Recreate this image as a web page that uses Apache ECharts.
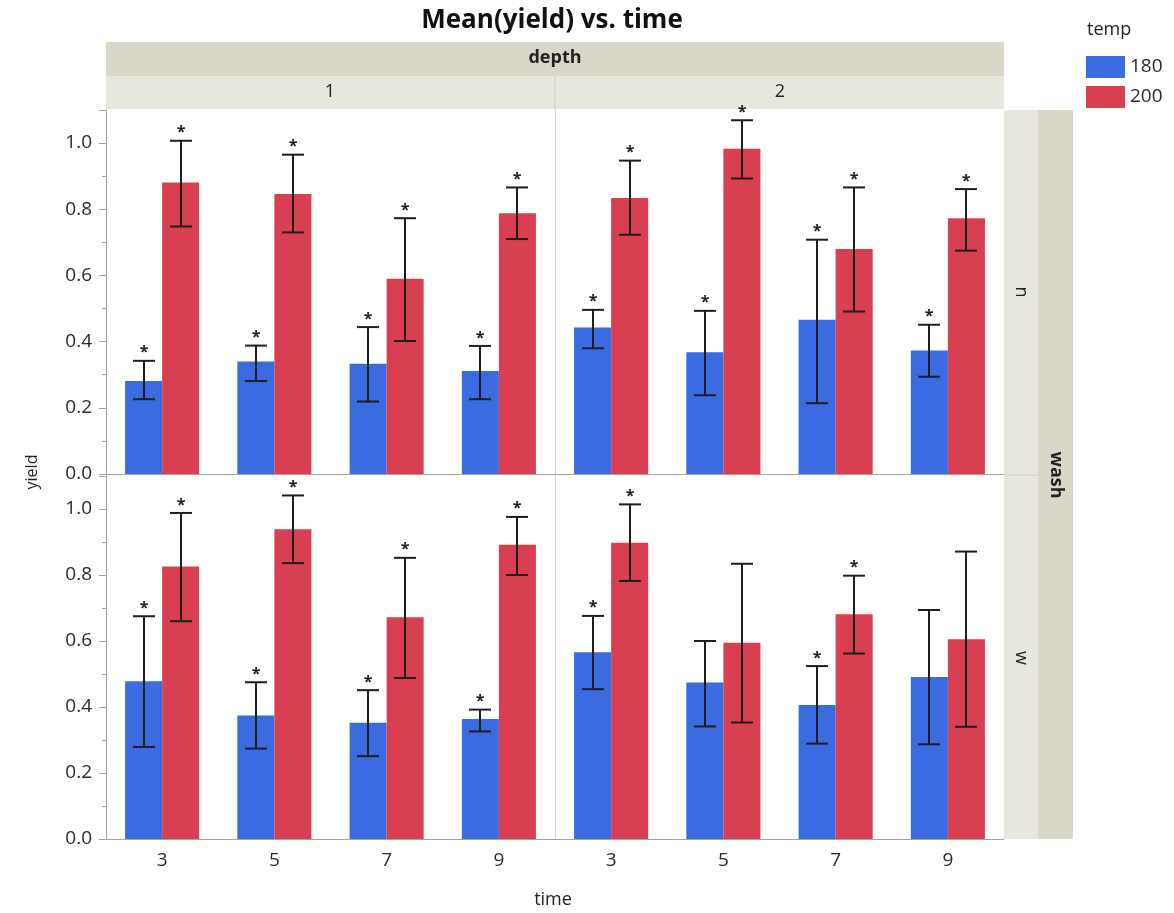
<!DOCTYPE html>
<html>
<head>
<meta charset="utf-8">
<title>Mean(yield) vs. time</title>
<script src="https://cdn.jsdelivr.net/npm/echarts@6/dist/echarts.min.js"></script>
<style>
  html, body { margin: 0; padding: 0; background: #fff; }
  #chart { width: 1174px; height: 913px; }
</style>
</head>
<body>
<div id="chart"></div>
<script>
// panels in order: depth1/wash n, depth2/wash n, depth1/wash w, depth2/wash w
const times = ['3', '5', '7', '9'];
const depths = ['1', '2'];
const washes = ['n', 'w'];
const temps = ['180', '200'];

const mean180 = [
  [0.281, 0.340, 0.333, 0.311],
  [0.443, 0.368, 0.466, 0.373],
  [0.478, 0.374, 0.352, 0.364],
  [0.566, 0.474, 0.406, 0.491]
];
const lower180 = [
  [0.226, 0.281, 0.219, 0.226],
  [0.380, 0.238, 0.214, 0.294],
  [0.279, 0.274, 0.251, 0.326],
  [0.454, 0.341, 0.289, 0.287]
];
const upper180 = [
  [0.342, 0.388, 0.444, 0.387],
  [0.496, 0.493, 0.708, 0.451],
  [0.675, 0.475, 0.451, 0.392],
  [0.676, 0.600, 0.524, 0.694]
];
const mean200 = [
  [0.881, 0.846, 0.590, 0.788],
  [0.834, 0.983, 0.680, 0.773],
  [0.826, 0.939, 0.672, 0.892],
  [0.898, 0.595, 0.681, 0.605]
];
const lower200 = [
  [0.748, 0.730, 0.402, 0.710],
  [0.723, 0.893, 0.491, 0.675],
  [0.660, 0.836, 0.488, 0.800],
  [0.782, 0.353, 0.562, 0.340]
];
const upper200 = [
  [1.007, 0.965, 0.773, 0.866],
  [0.947, 1.069, 0.866, 0.861],
  [0.988, 1.041, 0.852, 0.976],
  [1.014, 0.834, 0.798, 0.871]
];
// 1 = asterisk drawn above the error bar
const star180 = [[1, 1, 1, 1], [1, 1, 1, 1], [1, 1, 1, 1], [1, 0, 1, 0]];
const star200 = [[1, 1, 1, 1], [1, 1, 1, 1], [1, 1, 1, 1], [1, 0, 1, 0]];

const FONT = '"Open Sans", "Noto Sans", sans-serif';
const BLUE = '#3b6be0';
const RED = '#d83f50';
const AXIS = '#a4a498';
const BAND_DARK = '#d9d7c7';
const BAND_LIGHT = '#e8e7de';

const chart = echarts.init(document.getElementById('chart'));

const gridPos = [
  { left: 106, top: 110, width: 449, height: 364 },
  { left: 555, top: 110, width: 449, height: 364 },
  { left: 106, top: 476, width: 449, height: 363 },
  { left: 555, top: 476, width: 449, height: 363 }
];

function errSeries(p, t, lower, upper, stars) {
  return {
    type: 'custom',
    xAxisIndex: p,
    yAxisIndex: p,
    z: 5,
    silent: true,
    encode: { x: 0, y: [1, 2] },
    data: times.map((_, i) => [i, lower[p][i], upper[p][i], stars[p][i]]),
    renderItem: (params, api) => {
      const band = api.size([1, 0])[0];
      const shift = (t === 0 ? -1 : 1) * band * 0.165;
      const x = Math.round(api.coord([api.value(0), 0])[0] + shift);
      const yLo = api.coord([api.value(0), api.value(1)])[1];
      const yHi = api.coord([api.value(0), api.value(2)])[1];
      const st = { stroke: '#1e1e1e', lineWidth: 2 };
      const children = [
        { type: 'line', shape: { x1: x, y1: yLo, x2: x, y2: yHi }, style: st },
        { type: 'line', shape: { x1: x - 11, y1: yHi, x2: x + 11, y2: yHi }, style: st },
        { type: 'line', shape: { x1: x - 11, y1: yLo, x2: x + 11, y2: yLo }, style: st }
      ];
      if (api.value(3)) {
        children.push({
          type: 'text', x: x, y: yHi - 8,
          style: { text: '*', fill: '#1e1e1e', font: 'bold 16px ' + FONT, align: 'center', verticalAlign: 'middle' }
        });
      }
      return { type: 'group', children: children };
    }
  };
}

const grid = [], xAxis = [], yAxis = [], series = [];
for (let p = 0; p < 4; p++) {
  const bottom = p >= 2;
  const leftCol = p % 2 === 0;
  grid.push(gridPos[p]);
  xAxis.push({
    type: 'category', gridIndex: p, data: times,
    axisLine: { show: true, lineStyle: { color: AXIS, width: 1 } },
    axisTick: { show: false },
    axisLabel: { show: bottom, color: '#2a2a2a', fontSize: 19, margin: 12, fontFamily: FONT }
  });
  yAxis.push({
    type: 'value', gridIndex: p, min: 0, max: 1.1, interval: 0.2,
    splitLine: { show: false },
    axisLine: { show: true, lineStyle: { color: leftCol ? AXIS : '#d6d6d0', width: 1 } },
    axisTick: { show: leftCol, length: 7, lineStyle: { color: AXIS } },
    minorTick: { show: leftCol, splitNumber: 2, length: 4, lineStyle: { color: AXIS } },
    axisLabel: {
      show: leftCol, color: '#2a2a2a', fontSize: 19, margin: 14, fontFamily: FONT,
      showMaxLabel: false,
      formatter: v => (v > 1.05 ? '' : v.toFixed(1))
    }
  });
  series.push({
    name: temps[0], type: 'bar', xAxisIndex: p, yAxisIndex: p,
    data: mean180[p], barCategoryGap: '34%', barGap: '0%',
    itemStyle: { color: BLUE }
  });
  series.push({
    name: temps[1], type: 'bar', xAxisIndex: p, yAxisIndex: p,
    data: mean200[p], barCategoryGap: '34%', barGap: '0%',
    itemStyle: { color: RED }
  });
  series.push(errSeries(p, 0, lower180, upper180, star180));
  series.push(errSeries(p, 1, lower200, upper200, star200));
}

const txt = (text, x, y, opts) => Object.assign({
  type: 'text', x: x, y: y, silent: true,
  style: Object.assign({ text: text, fill: '#222', font: '18px ' + FONT, align: 'center', verticalAlign: 'middle' }, (opts && opts.style) || {})
}, opts && opts.rotation !== undefined ? { rotation: opts.rotation } : {});

const graphic = [
  // column strips
  { type: 'rect', shape: { x: 106, y: 42, width: 898, height: 34 }, style: { fill: BAND_DARK }, silent: true },
  { type: 'rect', shape: { x: 106, y: 76, width: 898, height: 33 }, style: { fill: BAND_LIGHT }, silent: true },
  { type: 'line', shape: { x1: 555, y1: 76, x2: 555, y2: 109 }, style: { stroke: '#cfcfc4', lineWidth: 1 }, silent: true },
  // row strips
  { type: 'rect', shape: { x: 1004, y: 110, width: 34, height: 729 }, style: { fill: BAND_LIGHT }, silent: true },
  { type: 'rect', shape: { x: 1038, y: 110, width: 35, height: 729 }, style: { fill: BAND_DARK }, silent: true },
  { type: 'line', shape: { x1: 1004, y1: 475, x2: 1038, y2: 475 }, style: { stroke: '#cfcfc4', lineWidth: 1 }, silent: true },
  txt('Mean(yield) vs. time', 552, 21, { style: { font: 'bold 26px ' + FONT, fill: '#111' } }),
  txt('depth', 555, 58, { style: { font: 'bold 18px ' + FONT } }),
  txt(depths[0], 330, 92),
  txt(depths[1], 780, 92),
  txt(washes[0], 1021, 292, { rotation: -Math.PI / 2 }),
  txt(washes[1], 1021, 658, { rotation: -Math.PI / 2 }),
  txt('wash', 1056, 475, { rotation: -Math.PI / 2, style: { font: 'bold 18px ' + FONT } }),
  txt('time', 553, 900),
  txt('yield', 32, 472, { rotation: Math.PI / 2, style: { font: '16px ' + FONT } }),
  txt('temp', 1087, 30, { style: { align: 'left', font: '18px ' + FONT } })
];

chart.setOption({
  backgroundColor: '#fff',
  animation: false,
  legend: {
    data: temps, orient: 'vertical', left: 1086, top: 56, padding: 0,
    icon: 'rect', itemWidth: 39, itemHeight: 22, itemGap: 8,
    textStyle: { fontSize: 19, color: '#2a2a2a', fontFamily: FONT },
    selectedMode: false
  },
  grid: grid,
  xAxis: xAxis,
  yAxis: yAxis,
  series: series,
  graphic: graphic
});
</script>
</body>
</html>
